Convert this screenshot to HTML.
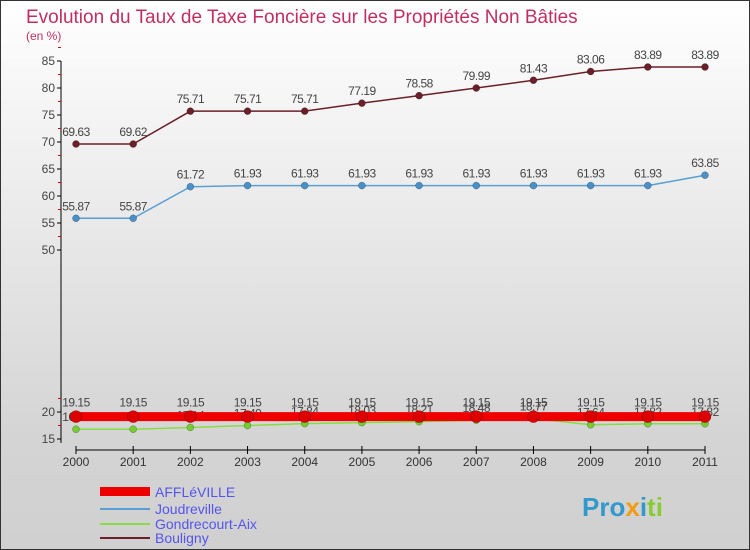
<!DOCTYPE html>
<html><head><meta charset="utf-8"><style>
body{margin:0;width:750px;height:550px;overflow:hidden;font-family:"Liberation Sans",sans-serif}
#wrap{position:absolute;left:0;top:0;width:748px;height:548px;border:1px solid #333;background:linear-gradient(#ffffff,#d4d4d4 80%,#d0d0d0)}
</style></head><body>
<div id="wrap">
<svg id="svg" width="750" height="550" style="position:absolute;left:-1px;top:-1px">
<text x="26" y="23" font-size="19" fill="#c0305e">Evolution du Taux de Taxe Foncière sur les Propriétés Non Bâties</text>
<text x="26" y="40" font-size="12" fill="#c0305e">(en %)</text>
<g id="axes"></g><g id="series"></g>
<g>
<rect x="100" y="487" width="50" height="9" fill="#e00"/>
<text x="155" y="497" font-size="14" fill="#5555ee">AFFLéVILLE</text>
<line x1="100" y1="509" x2="150" y2="509" stroke="#5a9fd4" stroke-width="2"/>
<text x="155" y="514" font-size="14" fill="#5555ee">Joudreville</text>
<line x1="100" y1="524" x2="150" y2="524" stroke="#88dd44" stroke-width="2"/>
<text x="155" y="529" font-size="14" fill="#5555ee">Gondrecourt-Aix</text>
<line x1="100" y1="538" x2="150" y2="538" stroke="#6b1f28" stroke-width="2"/>
<text x="155" y="543" font-size="14" fill="#5555ee">Bouligny</text>
</g>
<text x="582" y="516" font-size="26" font-weight="bold" fill="#3399cc">Pro<tspan fill="#f39c12">x</tspan><tspan fill="#3399cc">i</tspan><tspan fill="#88cc33">ti</tspan></text>
</svg>
</div>
<script>
const years=["2000","2001","2002","2003","2004","2005","2006","2007","2008","2009","2010","2011"];
const affleville=[19.15,19.15,19.15,19.15,19.15,19.15,19.15,19.15,19.15,19.15,19.15,19.15];
const joudreville=[55.87,55.87,61.72,61.93,61.93,61.93,61.93,61.93,61.93,61.93,61.93,63.85];
const gondrecourt=[16.81,16.81,17.14,17.49,17.84,18.03,18.21,18.48,18.77,17.64,17.82,17.82];
const bouligny=[69.63,69.62,75.71,75.71,75.71,77.19,78.58,79.99,81.43,83.06,83.89,83.89];
const yTicks=[15,20,50,55,60,65,70,75,80,85];
const NS="http://www.w3.org/2000/svg";
const X=i=>76+i*(705-76)/(years.length-1);
const Y=v=>61+(85-v)*(439-61)/70;
function mk(tag,attrs,parent){const e=document.createElementNS(NS,tag);for(const k in attrs)e.setAttribute(k,attrs[k]);parent.appendChild(e);return e;}
const ax=document.getElementById('axes'),sr=document.getElementById('series');
let a=mk('line',{x1:61,y1:Y(85),x2:61,y2:Y(15)+4,stroke:'#000'},ax);


yTicks.forEach(t=>{
 mk('line',{x1:57,y1:Y(t),x2:61,y2:Y(t),stroke:'#000'},ax);
 mk('line',{x1:58,y1:Y(t+2.5),x2:61,y2:Y(t+2.5),stroke:'#d00'},ax);
 const tx=mk('text',{x:55,y:Y(t)+4,'font-size':12,fill:'#444','text-anchor':'end'},ax);tx.textContent=t;
 
 
});
let b=mk('line',{x1:X(0),y1:450,x2:X(11),y2:450,stroke:'#000'},ax);


years.forEach((y,i)=>{
 mk('line',{x1:X(i),y1:446,x2:X(i),y2:454,stroke:'#000'},ax);
 const tx=mk('text',{x:X(i),y:466,'font-size':12,fill:'#333','text-anchor':'middle'},ax);tx.textContent=y;
 
 
});
function series(vals,color,width,r,dot,name,labelDy){
 const g=mk('g',{},sr);
 
 
 mk('polyline',{points:vals.map((v,i)=>X(i)+','+Y(v)).join(' '),fill:'none',stroke:color,'stroke-width':width},g);
 vals.forEach((v,i)=>{
  const c=mk('circle',{cx:X(i),cy:Y(v),r:r,fill:dot,stroke:'rgba(0,0,0,0.4)','stroke-width':0.5},g);
  
  
  const t=mk('text',{x:X(i),y:Y(v)+labelDy,'font-size':12,fill:'#444','text-anchor':'middle','letter-spacing':'-0.5'},g);
  t.textContent=String(v);
  
  
 });
}
series(bouligny,'#6b1f28',1.5,3.5,'#6b1f28','bouligny',-8);
series(joudreville,'#5a9fd4',1.5,3.5,'#4a90c8','joudreville',-8);
series(gondrecourt,'#88dd44',1.5,3.5,'#77cc33','gondrecourt-aix',-8);
series(affleville,'#ee0000',9,6,'#dd0000','affleville',-10);
</script>
</body></html>
